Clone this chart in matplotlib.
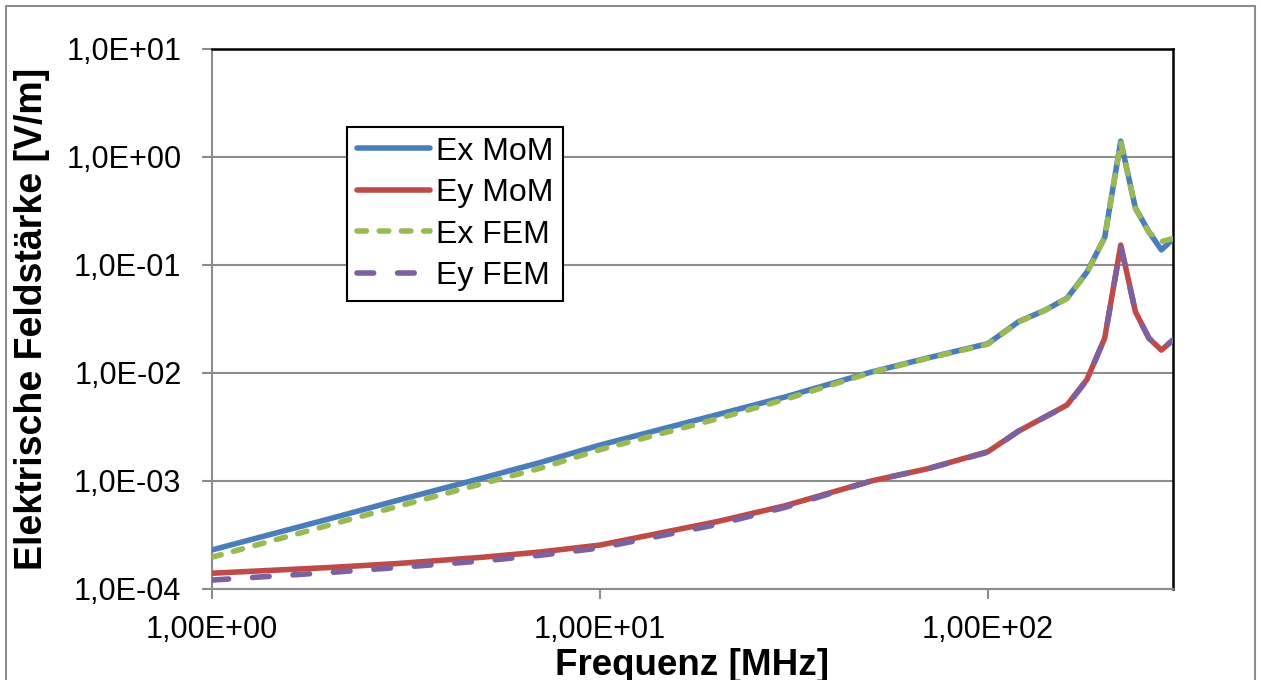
import numpy as np
import matplotlib
matplotlib.use("Agg")
import matplotlib.pyplot as plt
from matplotlib.ticker import FuncFormatter, LogLocator, NullLocator
from matplotlib.patches import Rectangle

plt.rcParams['font.family'] = ['Liberation Sans', 'DejaVu Sans']

# frequency in MHz
freq = [1, 2, 3, 5, 7, 10, 20, 30, 50, 70, 100,
        120, 140, 160, 180, 200, 220, 240, 260, 280, 300]

ex_mom = [2.30e-4, 4.45e-4, 6.6e-4, 1.07e-3, 1.48e-3, 2.15e-3, 4.1e-3, 6.0e-3, 1.02e-2, 1.38e-2, 1.87e-2,
          2.99e-2, 3.8e-2, 4.94e-2, 8.6e-2, 0.18, 1.40, 0.337, 0.203, 0.138, 0.174]
ey_mom = [1.40e-4, 1.58e-4, 1.72e-4, 1.97e-4, 2.2e-4, 2.55e-4, 4.2e-4, 5.9e-4, 1.0e-3, 1.3e-3, 1.87e-3,
          2.9e-3, 3.9e-3, 5.06e-3, 8.7e-3, 0.021, 0.153, 0.037, 0.021, 0.0163, 0.0202]
ex_fem = [1.97e-4, 3.9e-4, 5.8e-4, 9.5e-4, 1.31e-3, 1.95e-3, 3.75e-3, 5.7e-3, 1.01e-2, 1.37e-2, 1.85e-2,
          2.97e-2, 3.8e-2, 4.9e-2, 8.5e-2, 0.18, 1.38, 0.335, 0.2, 0.165, 0.176]
ey_fem = [1.21e-4, 1.42e-4, 1.58e-4, 1.82e-4, 2.05e-4, 2.4e-4, 3.95e-4, 5.7e-4, 1.0e-3, 1.3e-3, 1.85e-3,
          2.9e-3, 3.9e-3, 5.0e-3, 8.6e-3, 0.021, 0.15, 0.037, 0.021, 0.0163, 0.0202]

fig = plt.figure(figsize=(12.61, 6.80), dpi=100)
ax = fig.add_axes([212/1261, 1 - 589/680, 961/1261, 540/680])

lw = 4.0
ax.plot(freq, ex_mom, color='#4A7EBB', lw=lw, label='Ex MoM', solid_capstyle='round', zorder=3)
ax.plot(freq, ey_mom, color='#BE4B48', lw=lw, label='Ey MoM', solid_capstyle='round', zorder=3)
ax.plot(freq, ex_fem, color='#98B954', lw=lw, label='Ex FEM', dashes=(1.7, 2.3),
        dash_capstyle='round', zorder=4)
ax.plot(freq, ey_fem, color='#7D60A0', lw=lw, label='Ey FEM', dashes=(3.0, 4.3),
        dash_capstyle='round', zorder=4)

ax.set_xscale('log')
ax.set_yscale('log')
ax.set_xlim(1, 300)
ax.set_ylim(1e-4, 1e1)
ax.xaxis.set_major_locator(LogLocator(base=10, numticks=10))
ax.yaxis.set_major_locator(LogLocator(base=10, numticks=10))
ax.xaxis.set_minor_locator(NullLocator())
ax.yaxis.set_minor_locator(NullLocator())
ax.xaxis.set_major_formatter(FuncFormatter(lambda v, p: f"{v:.2E}".replace('.', ',')))
ax.yaxis.set_major_formatter(FuncFormatter(lambda v, p: f"{v:.1E}".replace('.', ',')))

ax.grid(axis='y', color='#8C8C8C', lw=1.5)
ax.set_axisbelow(True)
ax.tick_params(axis='both', which='major', direction='out', length=7, width=1.5,
               color='#8C8C8C', labelsize=22)
ax.tick_params(axis='y', pad=15)
ax.tick_params(axis='x', pad=12)

for side in ['left', 'bottom']:
    ax.spines[side].set_color('#8C8C8C')
    ax.spines[side].set_linewidth(1.5)
for side in ['top', 'right']:
    ax.spines[side].set_color('black')
    ax.spines[side].set_linewidth(1.8)

ax.set_xlabel('Frequenz [MHz]', fontsize=26.5, fontweight='bold', labelpad=2)
ax.set_ylabel('Elektrische Feldstärke [V/m]', fontsize=27, fontweight='bold', labelpad=12)

leg = ax.legend(loc='upper left', bbox_to_anchor=(135/961, 462/540), borderaxespad=0,
                fontsize=23, frameon=True, fancybox=False, framealpha=1,
                edgecolor='black', handlelength=2.3, handletextpad=0.2,
                labelspacing=0.36, borderpad=0.3)
leg.get_frame().set_linewidth(1.5)

# outer chart border
fig.add_artist(Rectangle((6/1261, -0.05), 1249/1261, 1.05 - 6/680, transform=fig.transFigure,
                         fill=False, edgecolor='#8C8C8C', lw=1.5))

fig.savefig('out.png', dpi=100)
